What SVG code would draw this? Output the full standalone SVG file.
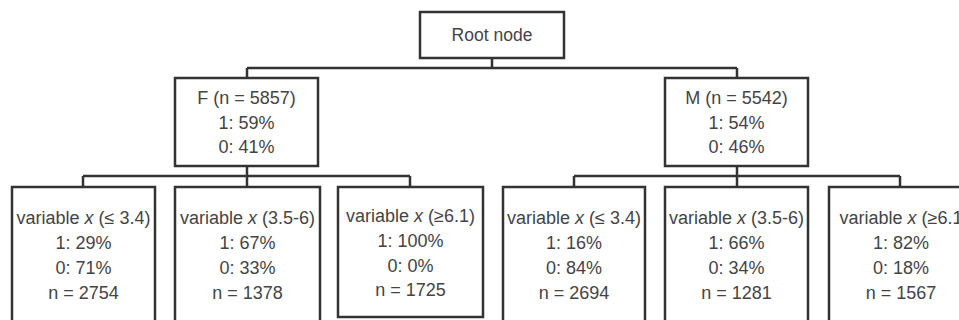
<svg xmlns="http://www.w3.org/2000/svg" width="959" height="320" viewBox="0 0 959 320">
<style>
.box{fill:#fff;stroke:#333;stroke-width:2.5}
.conn{fill:none;stroke:#333;stroke-width:2.5}
text{font-family:"Liberation Sans",Arial,sans-serif;font-size:18px;fill:#444;text-anchor:middle}
.i{font-style:italic}
</style>
<rect width="959" height="320" fill="#fff"/>
<g id="connectors">
<path class="conn" d="M492 58V68M247 68H737M247 68V78M737 68V78"/>
<path class="conn" d="M247 166V176M83 176H410M83 176V187M247 176V187M410 176V187"/>
<path class="conn" d="M737 166V176M574 176H900M574 176V187M737 176V187M900 176V187"/>
</g>
<g id="root"><rect class="box" x="420" y="12" width="144" height="46"/><text x="492" y="41" style="font-size:17.5px">Root node</text></g>
<g id="F"><rect class="box" x="175" y="78" width="143" height="88"/>
<text x="246.5" y="104">F (n = 5857)</text><text x="246.5" y="129">1: 59%</text><text x="246.5" y="153">0: 41%</text></g>
<g id="M"><rect class="box" x="665" y="78" width="143" height="88"/>
<text x="736.5" y="104">M (n = 5542)</text><text x="736.5" y="129">1: 54%</text><text x="736.5" y="153">0: 46%</text></g>
<g id="F1"><rect class="box" x="12" y="187" width="143" height="145"/>
<text x="83.5" y="224">variable <tspan class="i">x</tspan> (≤ 3.4)</text><text x="83.5" y="249">1: 29%</text><text x="83.5" y="274">0: 71%</text><text x="83.5" y="299">n = 2754</text></g>
<g id="F2"><rect class="box" x="175" y="187" width="145" height="145"/>
<text x="247.5" y="224">variable <tspan class="i">x</tspan> (3.5-6)</text><text x="247.5" y="249">1: 67%</text><text x="247.5" y="274">0: 33%</text><text x="247.5" y="299">n = 1378</text></g>
<g id="F3"><rect class="box" x="338" y="187" width="145" height="130"/>
<text x="410.5" y="222">variable <tspan class="i">x</tspan> (≥6.1)</text><text x="410.5" y="247">1: 100%</text><text x="410.5" y="272">0: 0%</text><text x="410.5" y="296">n = 1725</text></g>
<g id="M1"><rect class="box" x="503" y="187" width="142" height="145"/>
<text x="574" y="224">variable <tspan class="i">x</tspan> (≤ 3.4)</text><text x="574" y="249">1: 16%</text><text x="574" y="274">0: 84%</text><text x="574" y="299">n = 2694</text></g>
<g id="M2"><rect class="box" x="665" y="187" width="143" height="145"/>
<text x="736.5" y="224">variable <tspan class="i">x</tspan> (3.5-6)</text><text x="736.5" y="249">1: 66%</text><text x="736.5" y="274">0: 34%</text><text x="736.5" y="299">n = 1281</text></g>
<g id="M3"><rect class="box" x="829" y="187" width="144" height="145"/>
<text x="904" y="224">variable <tspan class="i">x</tspan> (≥6.1)</text><text x="901" y="249">1: 82%</text><text x="901" y="274">0: 18%</text><text x="901" y="299">n = 1567</text></g>
</svg>
